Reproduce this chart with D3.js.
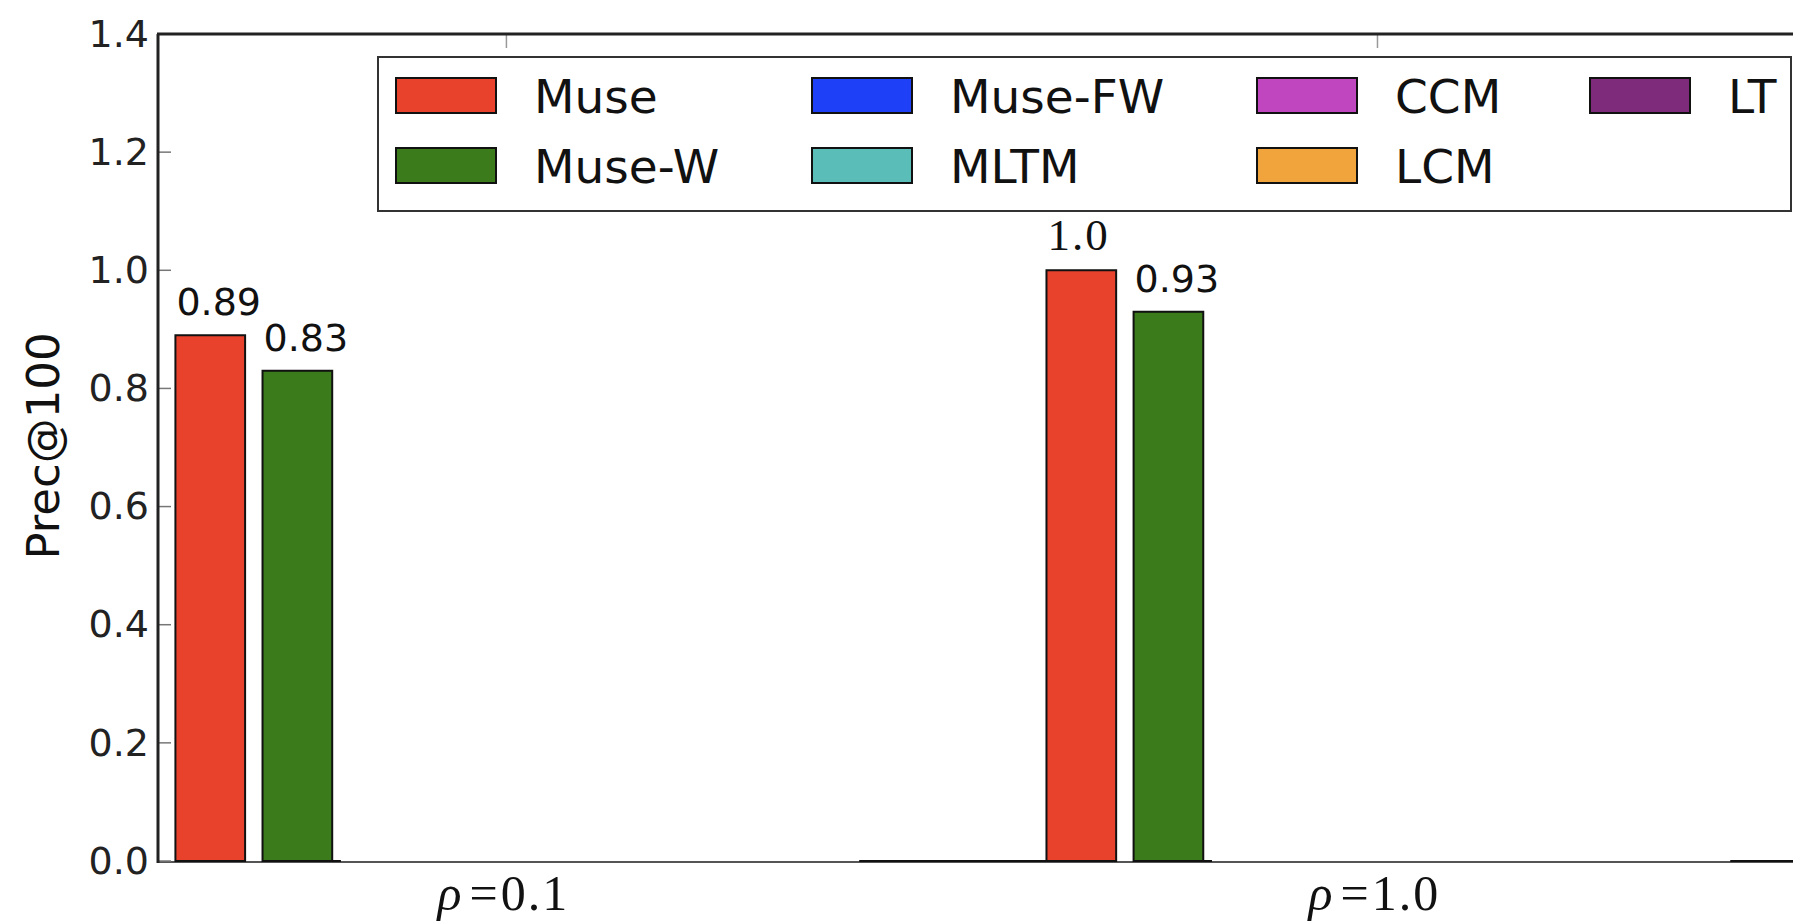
<!DOCTYPE html>
<html>
<head>
<meta charset="utf-8">
<script src="https://cdn.jsdelivr.net/npm/d3@7"></script>
<style>
  body { margin: 0; background: #fff; }
  svg { display: block; }
</style>
</head>
<body>
<div id="chart"></div>
<script>
// data
const rhoValues = ['0.1', '1.0'];
const seriesNames = ['Muse', 'Muse-W', 'Muse-FW', 'MLTM', 'CCM', 'LCM', 'LT'];
const museValues = [0.89, 1.0];
const museWValues = [0.83, 0.93];
const museFWValues = [0, 0];
const mltmValues = [0, 0];
const ccmValues = [0, 0];
const lcmValues = [0, 0];
const ltValues = [0, 0];
const yTickValues = [0, 0.2, 0.4, 0.6, 0.8, 1.0, 1.2, 1.4];

const seriesValues = [museValues, museWValues, museFWValues, mltmValues, ccmValues, lcmValues, ltValues];

// styles / layout
const colors = ['#e8422d', '#3b7b1b', '#1e40f7', '#5abdb8', '#bf46bf', '#f0a43b', '#7f2b7b'];
const barOffsets = [-0.38, -0.28, 0.405, 0.455, 0.505, 0.54, -0.27];
const barWidth = 0.08;

const width = 1793, height = 922;
const plot = { left: 158, right: 1813, top: 34, bottom: 861 };

const svg = d3.select('#chart')
  .append('svg')
  .attr('width', width)
  .attr('height', height);

const xScale = d3.scaleLinear()
  .domain([-0.4, 1.5])
  .range([plot.left, plot.right]);

const yScale = d3.scaleLinear()
  .domain([0, 1.4])
  .range([plot.bottom, plot.top]);

svg.append('clipPath')
  .attr('id', 'plotclip')
  .append('rect')
  .attr('x', plot.left)
  .attr('y', plot.top - 5)
  .attr('width', plot.right - plot.left)
  .attr('height', plot.bottom - plot.top + 10);

// bottom spine (under bars)
svg.append('line')
  .attr('x1', plot.left).attr('x2', plot.right)
  .attr('y1', plot.bottom + 1).attr('y2', plot.bottom + 1)
  .attr('stroke', '#555').attr('stroke-width', 2);

// bars
const bars = [];
seriesNames.forEach((name, s) => {
  seriesValues[s].forEach((v, g) => {
    bars.push({ s: s, g: g, v: v });
  });
});
// draw zero / later series first so Muse bars sit on top
bars.sort((a, b) => b.s - a.s);

const barG = svg.append('g').attr('clip-path', 'url(#plotclip)');
barG.selectAll('.bar')
  .data(bars)
  .enter()
  .append('path')
  .attr('class', 'bar')
  .attr('d', d => {
    const x0 = xScale(d.g + barOffsets[d.s]);
    const x1 = xScale(d.g + barOffsets[d.s] + barWidth);
    const y0 = yScale(0);
    const y1 = yScale(d.v);
    return 'M' + x0 + ',' + y0 + 'H' + x1 + 'V' + y1 + 'H' + x0 + 'Z';
  })
  .attr('fill', d => colors[d.s])
  .attr('stroke', '#111')
  .attr('stroke-width', 2);

// value labels
barG.selectAll('.vlabel')
  .data(bars.filter(d => d.v > 0))
  .enter()
  .append('text')
  .attr('class', 'vlabel')
  .attr('x', d => xScale(d.g + barOffsets[d.s]) + 1)
  .attr('y', d => yScale(d.v) - 20)
  .attr('font-family', d => d.v === 1 ? 'Liberation Serif, serif' : 'DejaVu Sans, sans-serif')
  .attr('font-size', d => d.v === 1 ? 45 : 38)
  .attr('letter-spacing', d => d.v === 1 ? 2 : 0)
  .attr('fill', '#111')
  .text(d => d.v === 1 ? '1.0' : d.v);

// left axis
const yAxis = d3.axisLeft(yScale)
  .tickValues(yTickValues)
  .tickSize(0)
  .tickPadding(9)
  .tickFormat(d3.format('.1f'));

const yAxisG = svg.append('g')
  .attr('class', 'y-axis')
  .attr('transform', 'translate(' + plot.left + ',0)')
  .call(yAxis);
yAxisG.select('.domain').remove();
yAxisG.selectAll('text')
  .attr('font-family', 'DejaVu Sans, sans-serif')
  .attr('font-size', 38)
  .attr('fill', '#222');

// inside tick marks on the left
svg.selectAll('.ytick')
  .data(yTickValues)
  .enter()
  .append('line')
  .attr('x1', plot.left).attr('x2', plot.left + 13)
  .attr('y1', d => yScale(d)).attr('y2', d => yScale(d))
  .attr('stroke', '#777').attr('stroke-width', 1.5);

// inside tick marks at group centres (top)
svg.selectAll('.xtick-top')
  .data(rhoValues)
  .enter()
  .append('line')
  .attr('x1', (d, i) => xScale(i)).attr('x2', (d, i) => xScale(i))
  .attr('y1', plot.top).attr('y2', plot.top + 14)
  .attr('stroke', '#999').attr('stroke-width', 1.5);

// spines
svg.append('line')
  .attr('x1', plot.left).attr('x2', plot.left)
  .attr('y1', plot.top).attr('y2', plot.bottom + 2)
  .attr('stroke', '#222').attr('stroke-width', 3);
svg.append('line')
  .attr('x1', plot.left - 1).attr('x2', plot.right)
  .attr('y1', plot.top).attr('y2', plot.top)
  .attr('stroke', '#222').attr('stroke-width', 3);

// x labels
const xLab = svg.selectAll('.xlabel')
  .data(rhoValues)
  .enter()
  .append('text')
  .attr('class', 'xlabel')
  .attr('x', (d, i) => xScale(i) - 3)
  .attr('y', 910)
  .attr('text-anchor', 'middle')
  .attr('font-family', 'Liberation Serif, serif')
  .attr('font-size', 50)
  .attr('fill', '#111');
xLab.append('tspan').attr('font-style', 'italic').text('ρ');
xLab.append('tspan').attr('dx', 8).text('=');
xLab.append('tspan').attr('dx', 3).attr('letter-spacing', 2).text(d => d);

// y label
svg.append('text')
  .attr('transform', 'translate(59,446) rotate(-90)')
  .attr('text-anchor', 'middle')
  .attr('font-family', 'DejaVu Sans, sans-serif')
  .attr('font-size', 45)
  .attr('fill', '#111')
  .text('Prec@100');

// legend
const legendBox = { x: 378, y: 57, w: 1413, h: 154 };
const legendCols = [396, 812, 1257, 1590];
const legendRows = [78, 148];

const legend = svg.append('g').attr('class', 'legend');
legend.append('rect')
  .attr('x', legendBox.x).attr('y', legendBox.y)
  .attr('width', legendBox.w).attr('height', legendBox.h)
  .attr('fill', '#fff')
  .attr('stroke', '#333').attr('stroke-width', 2);

const items = legend.selectAll('.item')
  .data(seriesNames)
  .enter()
  .append('g')
  .attr('class', 'item')
  .attr('transform', (d, i) => 'translate(' + legendCols[Math.floor(i / 2)] + ',' + legendRows[i % 2] + ')');

items.append('rect')
  .attr('width', 100).attr('height', 35)
  .attr('fill', (d, i) => colors[i])
  .attr('stroke', '#111').attr('stroke-width', 2);

items.append('text')
  .attr('x', 138)
  .attr('y', 35)
  .attr('font-family', 'DejaVu Sans, sans-serif')
  .attr('font-size', 47)
  .attr('fill', '#111')
  .text(d => d);
</script>
</body>
</html>
